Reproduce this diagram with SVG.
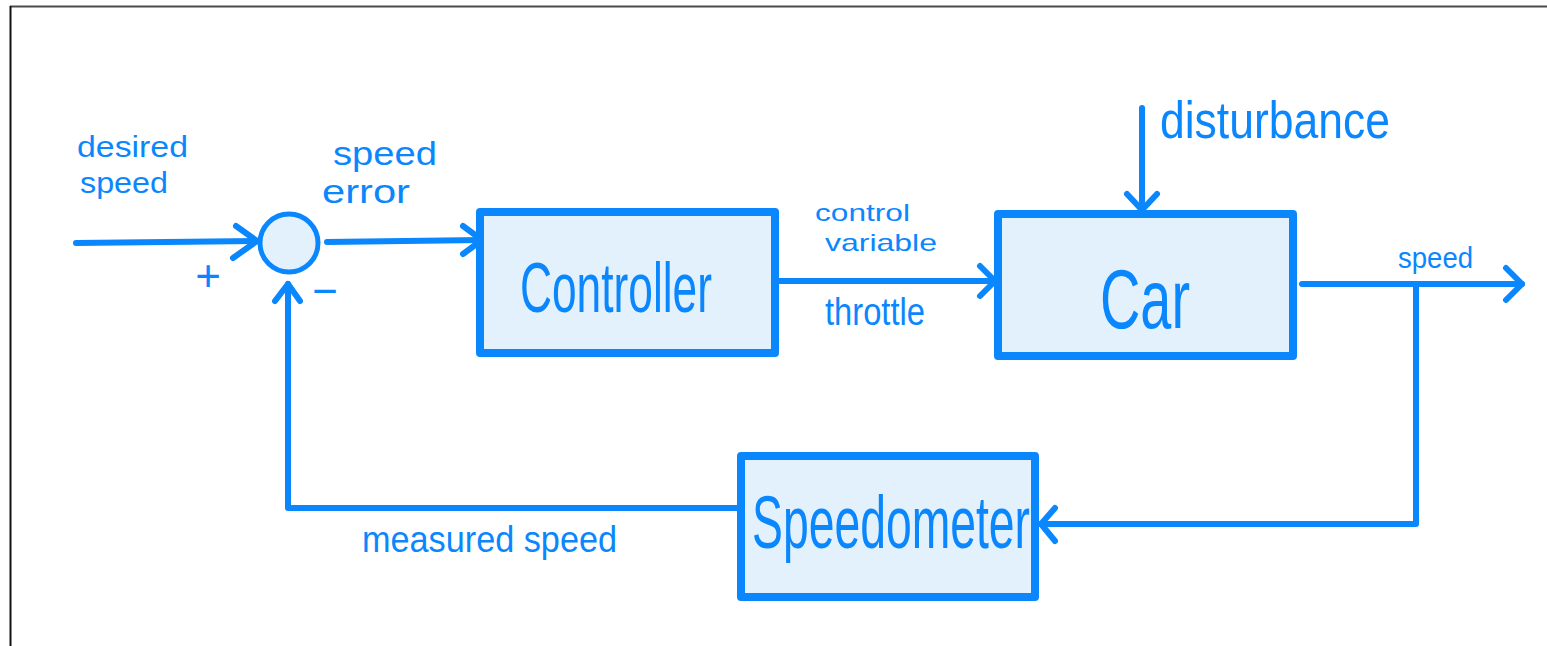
<svg xmlns="http://www.w3.org/2000/svg" width="1547" height="646" viewBox="0 0 1547 646">
<style>
.box{fill:#e3f1fd;stroke:#0b87fd;stroke-width:8;stroke-linejoin:round}
.ln{fill:none;stroke:#0b87fd;stroke-width:6;stroke-linecap:round;stroke-linejoin:round}
.t{font-family:"Liberation Sans",Arial,sans-serif;fill:#0b87fd}
</style>
<rect width="1547" height="646" fill="#ffffff"/>
<g id="frame">
<line x1="10" y1="6.5" x2="1547" y2="6.5" stroke="#4a4a4a" stroke-width="2"/>
<line x1="10.5" y1="6" x2="10.5" y2="646" stroke="#111111" stroke-width="2"/>
</g>
<g id="connectors">
<path class="ln" d="M76 243 L257 241"/>
<path class="ln" d="M236 226 L257 241 L233 258"/>
<path class="ln" d="M327 242 L482 240"/>
<path class="ln" d="M463 226 L482 240 L463 254"/>
<path class="ln" d="M779 281 L995 281"/>
<path class="ln" d="M980 266 L995 281 L980 296"/>
<path class="ln" d="M1142 108 L1142 210"/>
<path class="ln" d="M1127 194 L1142 210 L1157 194"/>
<path class="ln" d="M1302 284 L1522 284"/>
<path class="ln" d="M1506 268 L1522 284 L1506 300"/>
<path class="ln" d="M1416 286 L1416 524 L1041 524"/>
<path class="ln" d="M1055 508 L1041 524 L1055 541"/>
<path class="ln" d="M738 508 L288 508 L288 284"/>
<path class="ln" d="M275 301 L288 284 L300 301"/>
</g>
<g id="sum">
<circle cx="289" cy="243" r="29" fill="#e3f1fd" stroke="#0b87fd" stroke-width="5"/>
<text class="t" x="208" y="291" font-size="44" text-anchor="middle">+</text>
<text class="t" x="325" y="306" font-size="44" text-anchor="middle">−</text>
</g>
<g id="controller">
<rect class="box" x="480" y="212" width="295" height="141"/>
<text class="t" x="520" y="312" font-size="70" textLength="192" lengthAdjust="spacingAndGlyphs">Controller</text>
</g>
<g id="car">
<rect class="box" x="998" y="214" width="295" height="142"/>
<text class="t" x="1100" y="328" font-size="84" textLength="90" lengthAdjust="spacingAndGlyphs">Car</text>
</g>
<g id="speedometer">
<rect class="box" x="741" y="456" width="294" height="141"/>
<text class="t" x="752" y="548" font-size="74" textLength="278" lengthAdjust="spacingAndGlyphs">Speedometer</text>
</g>
<g id="labels">
<text class="t" x="77" y="157" font-size="30" textLength="111" lengthAdjust="spacingAndGlyphs">desired</text>
<text class="t" x="80" y="193" font-size="30" textLength="88" lengthAdjust="spacingAndGlyphs">speed</text>
<text class="t" x="333" y="165" font-size="33" textLength="104" lengthAdjust="spacingAndGlyphs">speed</text>
<text class="t" x="322" y="203" font-size="33" textLength="88" lengthAdjust="spacingAndGlyphs">error</text>
<text class="t" x="815" y="221" font-size="24" textLength="95" lengthAdjust="spacingAndGlyphs">control</text>
<text class="t" x="825" y="251" font-size="24" textLength="112" lengthAdjust="spacingAndGlyphs">variable</text>
<text class="t" x="825" y="325" font-size="38" textLength="100" lengthAdjust="spacingAndGlyphs">throttle</text>
<text class="t" x="1160" y="138" font-size="52" textLength="230" lengthAdjust="spacingAndGlyphs">disturbance</text>
<text class="t" x="1398" y="268" font-size="30" textLength="75" lengthAdjust="spacingAndGlyphs">speed</text>
<text class="t" x="362" y="552" font-size="36" textLength="255" lengthAdjust="spacingAndGlyphs">measured speed</text>
</g>
</svg>
